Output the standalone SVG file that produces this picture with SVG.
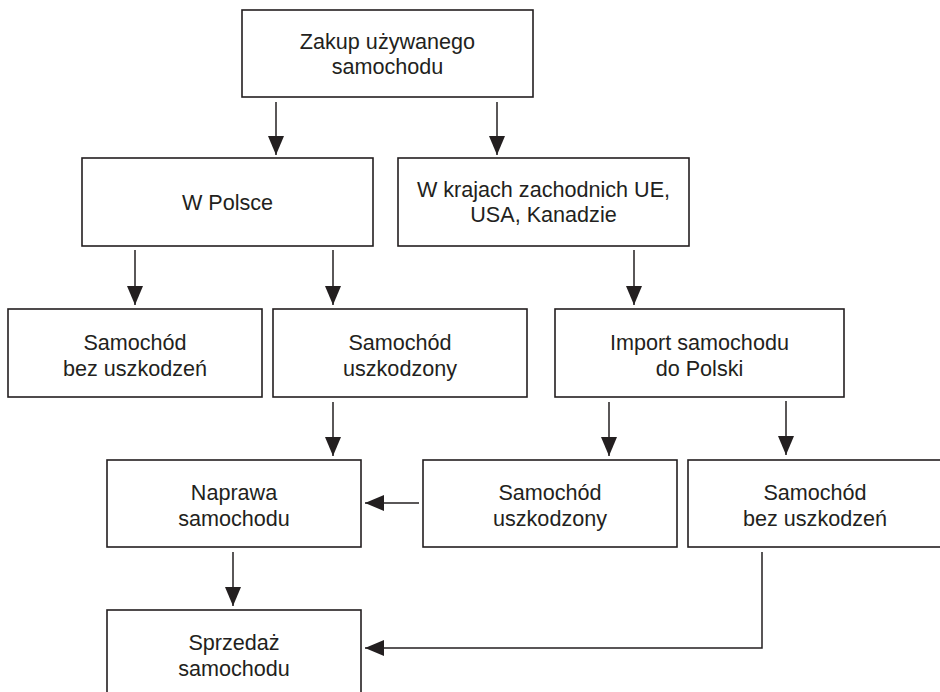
<svg xmlns="http://www.w3.org/2000/svg" width="940" height="692" viewBox="0 0 940 692">
<style>
.box{fill:#fff;stroke:#231f20;stroke-width:1.6}
.t{font-family:"Liberation Sans",Arial,sans-serif;font-size:21.6px;fill:#231f20;text-anchor:middle}
.c{fill:none;stroke:#231f20;stroke-width:1.5}
</style>
<defs>
<marker id="ah" markerUnits="userSpaceOnUse" markerWidth="20" markerHeight="16" refX="19" refY="8" orient="auto">
<path d="M0,0 L19,8 L0,16 z" fill="#231f20"/>
</marker>
</defs>
<rect width="940" height="692" fill="#fff"/>
<g id="n-zakup">
<rect class="box" x="242" y="10" width="291" height="87"/>
<text class="t" x="387.5" y="49">Zakup używanego</text>
<text class="t" x="387.5" y="74">samochodu</text>
</g>
<g id="n-polska">
<rect class="box" x="82" y="158" width="291" height="88"/>
<text class="t" x="227.5" y="210">W Polsce</text>
</g>
<g id="n-zachod">
<rect class="box" x="398" y="158" width="291" height="88"/>
<text class="t" x="543.5" y="197">W krajach zachodnich UE,</text>
<text class="t" x="543.5" y="222">USA, Kanadzie</text>
</g>
<g id="n-pl-bez">
<rect class="box" x="8" y="309" width="254" height="88"/>
<text class="t" x="135" y="350">Samochód</text>
<text class="t" x="135" y="376">bez uszkodzeń</text>
</g>
<g id="n-pl-uszk">
<rect class="box" x="273" y="309" width="254" height="88"/>
<text class="t" x="400" y="350">Samochód</text>
<text class="t" x="400" y="376">uszkodzony</text>
</g>
<g id="n-import">
<rect class="box" x="555" y="309" width="289" height="88"/>
<text class="t" x="699.5" y="350">Import samochodu</text>
<text class="t" x="699.5" y="376">do Polski</text>
</g>
<g id="n-naprawa">
<rect class="box" x="107" y="460" width="254" height="87"/>
<text class="t" x="234" y="500">Naprawa</text>
<text class="t" x="234" y="526">samochodu</text>
</g>
<g id="n-imp-uszk">
<rect class="box" x="423" y="460" width="254" height="87"/>
<text class="t" x="550" y="500">Samochód</text>
<text class="t" x="550" y="526">uszkodzony</text>
</g>
<g id="n-imp-bez">
<rect class="box" x="688" y="460" width="254" height="87"/>
<text class="t" x="815" y="500">Samochód</text>
<text class="t" x="815" y="526">bez uszkodzeń</text>
</g>
<g id="n-sprzedaz">
<rect class="box" x="107" y="610" width="254" height="100"/>
<text class="t" x="234" y="650">Sprzedaż</text>
<text class="t" x="234" y="676">samochodu</text>
</g>
<g id="connectors">
<line class="c" x1="276" y1="102" x2="276" y2="155" marker-end="url(#ah)"/>
<line class="c" x1="497" y1="102" x2="497" y2="155" marker-end="url(#ah)"/>
<line class="c" x1="135" y1="250" x2="135" y2="305" marker-end="url(#ah)"/>
<line class="c" x1="333" y1="250" x2="333" y2="305" marker-end="url(#ah)"/>
<line class="c" x1="634" y1="250" x2="634" y2="305" marker-end="url(#ah)"/>
<line class="c" x1="333" y1="402" x2="333" y2="456" marker-end="url(#ah)"/>
<line class="c" x1="609" y1="402" x2="609" y2="456" marker-end="url(#ah)"/>
<line class="c" x1="786" y1="401" x2="786" y2="455" marker-end="url(#ah)"/>
<line class="c" x1="419" y1="503" x2="365" y2="503" marker-end="url(#ah)"/>
<line class="c" x1="233" y1="552" x2="233" y2="606" marker-end="url(#ah)"/>
<polyline class="c" points="762,552 762,648 365,648" marker-end="url(#ah)"/>
</g>
</svg>
